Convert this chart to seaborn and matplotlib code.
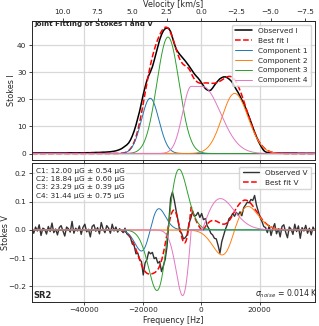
import numpy as np
import pandas as pd
import seaborn as sns
import matplotlib.pyplot as plt

# channel grid of the spectrum (Hz)
chan_start = -58000
chan_width = 625

obs_I = [0.2] * 20 + [0.25] * 10 + [
    0.3, 0.3, 0.3, 0.35, 0.35, 0.4, 0.4, 0.4,
    0.45, 0.5, 0.5, 0.55, 0.6, 0.65, 0.75, 0.85, 1.0, 1.2, 1.45, 1.75, 2.2, 2.7, 3.2,
    3.9, 5.0, 6.5, 8.3, 10.5, 13.0, 15.6, 18.7, 21.8, 24.5,
    27.0, 28.8, 30.3, 32.0, 34.4, 37.0, 39.5, 42.0, 43.9, 45.3,
    46.1, 46.4, 46.2, 45.0, 42.8, 40.6, 38.6, 37.5, 36.6, 35.8,
    35.0, 34.2, 33.3, 32.4, 31.4, 30.4, 29.4, 28.6, 27.9, 27.0,
    26.0, 25.0, 24.0, 23.5, 23.2, 23.4, 24.2, 25.2, 26.1, 26.9,
    27.6, 28.0, 28.3, 28.3, 28.0, 27.5, 26.9, 26.0, 24.8, 23.6,
    22.5, 21.2, 19.8, 18.6, 16.9, 15.3, 13.5, 11.6, 9.7, 7.9,
    6.2, 4.6, 3.3, 2.1, 1.1, 0.6, 0.35, 0.25,
] + [0.2] * 5 + [0.15] * 10 + [0.1] * 10

# observed Stokes V
obs_V = [
    0.005, -0.012, 0.010, -0.004, 0.018, -0.020, 0.006, 0.002, -0.015, 0.012,
    -0.006, 0.024, -0.010, 0.003, -0.018, 0.008, 0.015, -0.003, -0.022, 0.010,
    0.004, -0.008, 0.030, -0.012, 0.006, -0.004, 0.014, -0.016, 0.009, 0.020,
    -0.007, 0.002, -0.025, 0.012, 0.018, -0.005, 0.008, -0.014, 0.026, 0.003,
    -0.010, 0.015, 0.006, -0.012, 0.020, -0.004, 0.010, -0.008, 0.004, -0.002,
    -0.010, 0.006, -0.014,
    -0.020, -0.028, -0.050, -0.055, -0.085, -0.082, -0.105, -0.112, -0.160, -0.118,
    -0.105, -0.078, -0.085, -0.080, -0.102, -0.098, -0.118, -0.112, -0.148, -0.128,
    -0.105, -0.060, 0.025, 0.112, 0.134, 0.105, 0.068, 0.035, -0.005, -0.012,
    -0.032, -0.028, -0.018, 0.022, 0.040, 0.065, 0.048, 0.052, 0.062, 0.044,
    0.058, 0.036, 0.040, 0.015, 0.004, -0.012, -0.018, -0.030, -0.032, -0.055,
    -0.083, -0.042, -0.020, 0.002, 0.018, 0.040, 0.046, 0.058, 0.048, 0.062,
    0.052, 0.064, 0.050, 0.078, 0.088, 0.098, 0.096, 0.108, 0.104, 0.122,
    0.088, 0.066, 0.044, 0.030, 0.012, 0.008,
    -0.010, 0.015, -0.020, 0.006, 0.022, -0.014, 0.004, -0.025, 0.012, 0.018,
    -0.008, -0.028, 0.010, 0.002, -0.016, 0.020, -0.006, 0.014, -0.030, 0.008,
    -0.004, 0.016, -0.012, 0.006, -0.018, 0.010, -0.002,
]

# fitted components (C4 has a flat top between lo and hi)
comp_names = ["Component 1", "Component 2", "Component 3", "Component 4"]
comp_colors = ["#1f77b4", "#ff7f0e", "#2ca02c", "#e377c2"]
comp_amp = [20.4, 22.2, 43.0, 24.8]
comp_lo = [-17500, 11400, -11400, -3450]
comp_hi = [-17500, 11400, -11400, 350]
comp_sig_lo = [3000, 4300, 3800, 2950]
comp_sig_hi = [3000, 4600, 3800, 6200]
comp_vpeak = [0.075, 0.089, 0.215, 0.233]
b_field = [12.00, 18.84, 23.29, 31.44]
b_err = [0.54, 0.60, 0.39, 0.75]
sigma_noise = 0.014
vel_ticks = [10.0, 7.5, 5.0, 2.5, 0.0, -2.5, -5.0, -7.5]

C_KMS = 299792.458
F0 = 1420.405751e6


def f2v(f):
    return -np.asarray(f) / F0 * C_KMS


def v2f(v):
    return -np.asarray(v) / C_KMS * F0


def profile(f, amp, lo, hi, s_lo, s_hi):
    z = np.where(f < lo, (f - lo) / s_lo, np.where(f > hi, (f - hi) / s_hi, 0.0))
    dz = np.where(f < lo, 1 / s_lo, np.where(f > hi, 1 / s_hi, 0.0))
    g = amp * np.exp(-0.5 * z**2)
    return g, -g * z * dz


freq = chan_start + chan_width * np.arange(len(obs_I))
fine = np.linspace(freq[0], freq[-1], 1200)

comps_I, comps_V = [], []
for k in range(4):
    g, dg = profile(fine, comp_amp[k], comp_lo[k], comp_hi[k], comp_sig_lo[k], comp_sig_hi[k])
    comps_I.append(g)
    comps_V.append(-comp_vpeak[k] * dg / np.abs(dg).max())
fit_I = np.sum(comps_I, axis=0)
fit_V = np.sum(comps_V, axis=0)

sns.set_style("ticks")
plt.rcParams.update({
    "xtick.labelsize": 5.3, "ytick.labelsize": 5.3,
    "xtick.major.size": 2.5, "ytick.major.size": 2.5,
    "xtick.major.pad": 1.5, "ytick.major.pad": 1.5,
    "xtick.major.width": 0.6, "ytick.major.width": 0.6,
    "axes.linewidth": 0.7, "axes.labelsize": 5.8,
    "axes.labelpad": 1.5,
})

fig, (ax1, ax2) = plt.subplots(2, 1, figsize=(3.19, 3.26), dpi=100, sharex=True)
fig.subplots_adjust(left=0.100, right=0.987, top=0.936, bottom=0.074, hspace=0.022)

sns.lineplot(x=freq, y=obs_I, color="black", lw=1.1, label="Observed I", ax=ax1)
sns.lineplot(x=fine, y=fit_I, color="red", lw=1.1, ls="--", label="Best fit I", ax=ax1)
for k in range(4):
    sns.lineplot(x=fine, y=comps_I[k], color=comp_colors[k], lw=0.7, label=comp_names[k], ax=ax1)

sns.lineplot(x=freq, y=obs_V, color="black", alpha=0.8, lw=1.0, label="Observed V", ax=ax2)
sns.lineplot(x=fine, y=fit_V, color="red", lw=1.1, ls="--", label="Best fit V", ax=ax2)
for k in range(4):
    sns.lineplot(x=fine, y=comps_V[k], color=comp_colors[k], lw=0.7, ax=ax2)

ax1.set_xlim(freq[0], freq[-1])
for ax in (ax1, ax2):
    ax.grid(True, color="#d8d8d8", lw=0.9)
    ax.set_axisbelow(True)
    ax.legend(loc="upper right", fontsize=5.3, handlelength=2.3, borderpad=0.45,
              labelspacing=0.5, framealpha=0.8)

ax1.set_ylabel("Stokes I")
ax2.set_ylabel("Stokes V")
ax1.yaxis.set_label_coords(-0.056, 0.5)
ax2.yaxis.set_label_coords(-0.076, 0.5)
ax2.set_xlabel("Frequency [Hz]")
ax1.tick_params(labelbottom=False)

sec = ax1.secondary_xaxis("top", functions=(f2v, v2f))
sec.set_xticks(vel_ticks)
sec.set_xlabel("Velocity [km/s]", fontsize=5.8, labelpad=1.5)
sec.tick_params(labelsize=5.3, length=2.5, width=0.6, pad=1.5)

ax1.text(0.01, 0.998, "Joint Fitting of Stokes I and V", transform=ax1.transAxes,
         fontsize=5.1, fontweight="bold", va="top", ha="left")

bfield_txt = "\n".join(
    f"C{k + 1}: {b_field[k]:.2f} μG ± {b_err[k]:.2f} μG" for k in range(4)
)
ax2.text(0.015, 0.965, bfield_txt, transform=ax2.transAxes, fontsize=5.3, va="top",
         ha="left", linespacing=1.45,
         bbox=dict(facecolor="white", alpha=0.7, edgecolor="none", pad=1.0))
ax2.text(0.004, 0.012, "SR2", transform=ax2.transAxes, fontsize=6, fontweight="bold",
         va="bottom", ha="left")
ax2.text(0.788, 0.012, rf"$\sigma_{{noise}}$ = {sigma_noise} K", transform=ax2.transAxes,
         fontsize=5.6, va="bottom", ha="left")

fig.savefig("out.png", dpi=100)
